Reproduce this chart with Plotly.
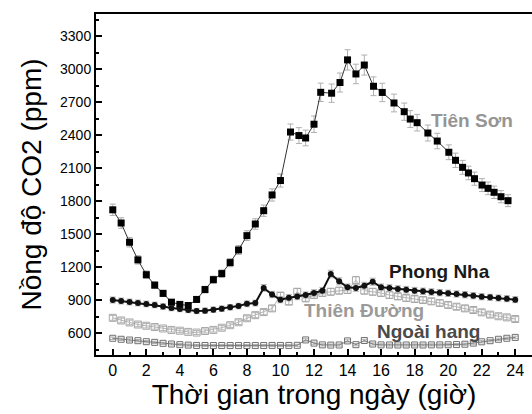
import plotly.graph_objects as go

# Hours of the day for the half-hourly series
hours = [i * 0.5 for i in range(49)]

# Tiên Sơn: irregular sampling times (h) and CO2 (ppm)
tien_son_hours = [0, 0.5, 1, 1.5, 2, 2.5, 3, 3.5, 4, 4.5, 5, 5.5, 6, 6.5, 7, 7.5, 8,
                  8.5, 9, 9.5, 10, 10.6, 11.1, 11.5, 12, 12.4, 13.05, 13.55, 14, 14.5,
                  15, 15.55, 16.07, 16.77, 17.38, 17.74, 18.15, 18.79, 19.35, 20.04,
                  20.44, 20.86, 21.21, 21.57, 22.02, 22.38, 22.74, 23.15, 23.57]
tien_son = [1720, 1600, 1425, 1265, 1130, 1035, 960, 880, 860, 850, 905, 995, 1085,
            1140, 1240, 1355, 1485, 1591, 1712, 1855, 1986, 2427, 2395, 2373, 2498,
            2788, 2780, 2877, 3083, 2955, 3036, 2843, 2787, 2691, 2612, 2545, 2512,
            2418, 2345, 2243, 2170, 2106, 2055, 2003, 1945, 1915, 1879, 1839, 1803]

phong_nha = [900, 891, 882, 873, 864, 855, 840, 827, 818, 809, 800, 803, 812, 821,
             834, 845, 865, 872, 1010, 950, 902, 921, 931, 945, 964, 985, 1136, 1070,
             1015, 1009, 1030, 1066, 1015, 1009, 1000, 994, 985, 979, 973, 967, 961,
             955, 948, 939, 930, 924, 918, 912, 903]

thien_duong = [738, 714, 696, 677, 666, 654, 641, 628, 621, 610, 604, 618, 628, 648,
               671, 698, 734, 762, 790, 824, 940, 885, 975, 915, 945, 964, 975, 985,
               991, 1080, 985, 975, 964, 945, 933, 918, 909, 900, 888, 873, 855, 839,
               824, 809, 788, 767, 752, 742, 727]

ngoai_hang = [552, 543, 536, 530, 521, 515, 506, 500, 494, 490, 487, 486, 486, 486,
              486, 486, 486, 486, 486, 487, 487, 487, 488, 537, 508, 492, 490, 491,
              528, 494, 532, 500, 492, 491, 491, 491, 491, 491, 492, 492, 493, 495,
              498, 508, 520, 530, 543, 552, 560]

err_pct = 3  # relative standard error (%)

x_ticks = list(range(0, 25, 2))
y_ticks = list(range(600, 3301, 300))

FONT = "Liberation Sans, Arial, sans-serif"
ERR = dict(type="percent", value=err_pct, color="#b0b0b0", thickness=1, width=3)

fig = go.Figure()

fig.add_trace(go.Scatter(
    x=hours, y=ngoai_hang, mode="lines+markers",
    line=dict(color="#808080", width=1),
    marker=dict(symbol="square-open", size=6, color="#707070", line=dict(width=1)),
    error_y=dict(ERR, value=2), showlegend=False))

fig.add_trace(go.Scatter(
    x=hours, y=thien_duong, mode="lines+markers",
    line=dict(color="#b5b5b5", width=1),
    marker=dict(symbol="square-open", size=7, color="#a8a8a8", line=dict(width=1)),
    error_y=ERR, showlegend=False))

fig.add_trace(go.Scatter(
    x=hours, y=phong_nha, mode="lines+markers",
    line=dict(color="#111111", width=2),
    marker=dict(symbol="circle", size=6, color="#111111"),
    error_y=ERR, showlegend=False))

fig.add_trace(go.Scatter(
    x=tien_son_hours, y=tien_son, mode="lines+markers",
    line=dict(color="#333333", width=1),
    marker=dict(symbol="square", size=7, color="#000000"),
    error_y=ERR, showlegend=False))

# Site labels next to their curves
labels = [
    ("Tiên Sơn", 21.4, 2535, "#959595"),
    ("Phong Nha", 19.5, 1160, "#1a1a1a"),
    ("Thiên Đường", 15.0, 809, "#9a9a9a"),
    ("Ngoài hang", 18.85, 612, "#4a4a4a"),
]
for text, lx, ly, col in labels:
    fig.add_annotation(x=lx, y=ly, text=f"<b>{text}</b>", showarrow=False,
                       xanchor="center", yanchor="middle",
                       font=dict(family=FONT, size=19, color=col))

fig.update_layout(
    width=532, height=414,
    margin=dict(l=96, r=0, t=14, b=59),
    paper_bgcolor="white", plot_bgcolor="white",
    font=dict(family=FONT, color="#000000"),
    xaxis=dict(
        range=[-1, 25], tickvals=x_ticks, ticks="inside", ticklen=6, tickwidth=2,
        tickcolor="black", showline=True, linecolor="black", linewidth=2,
        mirror=True, showgrid=False, zeroline=False,
        tickfont=dict(size=16),
        minor=dict(dtick=1, tick0=0, ticks="inside", ticklen=3, tickwidth=1.5,
                   tickcolor="black"),
        title=dict(text="Thời gian trong ngày (giờ)", font=dict(size=28), standoff=6),
    ),
    yaxis=dict(
        range=[400, 3500], tickvals=y_ticks, ticks="inside", ticklen=6, tickwidth=2,
        tickcolor="black", showline=True, linecolor="black", linewidth=2,
        showgrid=False, zeroline=False, tickfont=dict(size=14),
        minor=dict(dtick=150, tick0=0, ticks="inside", ticklen=3, tickwidth=1.5,
                   tickcolor="black"),
        title=dict(text="Nồng độ CO2 (ppm)", font=dict(size=28), standoff=10),
    ),
)

fig.write_html("out.html")
